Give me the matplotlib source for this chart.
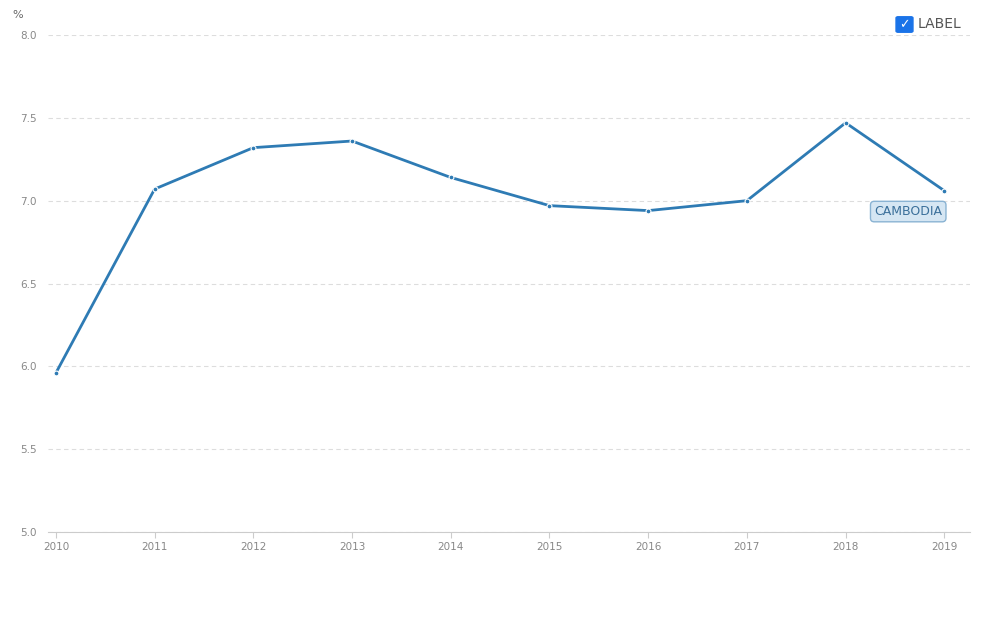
import matplotlib
matplotlib.use("Agg")
import matplotlib.pyplot as plt
from matplotlib.patches import FancyBboxPatch

years = [2010, 2011, 2012, 2013, 2014, 2015, 2016, 2017, 2018, 2019]
values = [5.96, 7.07, 7.32, 7.36, 7.14, 6.97, 6.94, 7.00, 7.47, 7.06]
yticks = [5.0, 5.5, 6.0, 6.5, 7.0, 7.5, 8.0]
series_label = "CAMBODIA"

fig = plt.figure(figsize=(9.82, 6.17), dpi=100)
ax = fig.add_axes([48/982, 85/617, 922/982, 497/617])
color = "#2e7bb4"
ax.plot(years, values, color=color, lw=2, marker="o", ms=3.5, mfc=color, mec="white", mew=0.8, zorder=3)
ax.set_xlim(2009.92, 2019.26)
ax.set_ylim(5, 8)
ax.set_yticks(yticks)
ax.set_yticklabels([f"{t:.1f}" for t in yticks])
ax.set_xticks(years)
ax.grid(axis="y", color="#dddddd", ls=(0, (4, 3)), lw=0.8)
for s in ax.spines.values():
    s.set_visible(False)
ax.spines["bottom"].set_visible(True)
ax.spines["bottom"].set_color("#cccccc")
ax.tick_params(axis="y", length=0, labelsize=7.5, labelcolor="#888888", pad=8)
ax.tick_params(axis="x", length=4, color="#cccccc", labelsize=7.5, labelcolor="#888888")
fig.text(12/982, 1-15/617, "%", fontsize=8, color="#666666", va="center")
ax.annotate(series_label, (years[-1], values[-1]), xytext=(-26, -15), textcoords="offset points",
            ha="center", va="center", fontsize=9, color="#3a6f9a",
            bbox=dict(boxstyle="round,pad=0.3", fc="#d5e6f3", ec="#8ab3d3", lw=1))
fig.patches.append(FancyBboxPatch((898/982, 1-31/617), 13/982, 13/617, boxstyle="round,pad=0.002",
                                  transform=fig.transFigure, fc="#1a73e8", ec="#1a73e8"))
fig.text(904.5/982, 1-24.5/617, "✓", color="white", fontsize=9, ha="center", va="center", fontweight="bold")
fig.text(918/982, 1-24/617, "LABEL", fontsize=10, color="#555555", va="center")
fig.savefig("out.png", dpi=100)
